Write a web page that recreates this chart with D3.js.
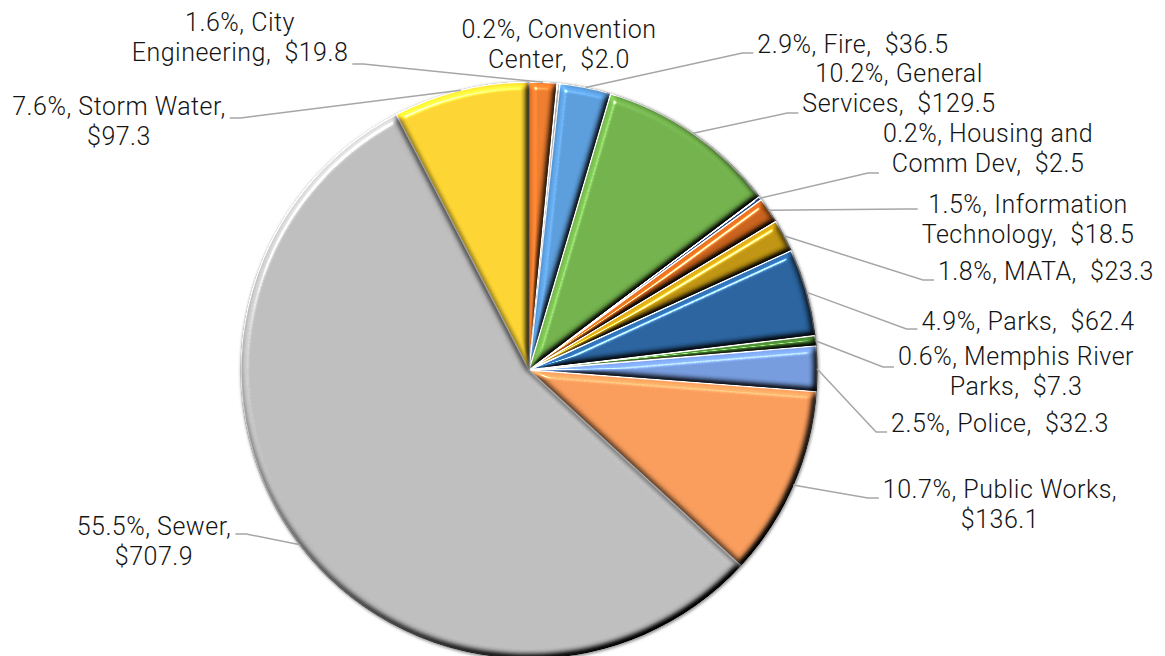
<!DOCTYPE html>
<html>
<head>
<meta charset="utf-8">
<script src="https://cdn.jsdelivr.net/npm/d3@7/dist/d3.min.js"></script>
<style>
  html, body { margin: 0; padding: 0; background: #ffffff; }
  svg { display: block; }
  .lbl { font-family: Roboto, "Noto Sans", sans-serif; font-size: 25px; font-weight: 300; letter-spacing: 0.5px; fill: #141414; white-space: pre; }
</style>
</head>
<body>
<svg id="chart" width="1165" height="656"></svg>
<script>
// Capital budget by division ($ millions)
const categories = [
  "City Engineering", "Convention Center", "Fire", "General Services",
  "Housing and Comm Dev", "Information Technology", "MATA", "Parks",
  "Memphis River Parks", "Police", "Public Works", "Sewer", "Storm Water"
];
const values = [19.8, 2.0, 36.5, 129.5, 2.5, 18.5, 23.3, 62.4, 7.3, 32.3, 136.1, 707.9, 97.3];
const colors = [
  "#ec7c2e", "#a5a5a5", "#5b9cda", "#72b14c",
  "#284780", "#c8621c", "#bf9412", "#2a639e",
  "#46802f", "#769bdd", "#f89c5c", "#bdbdbd", "#fbd433"
];
// number of words kept on the first line of each label (0 = single line)
const firstLineWords = [2, 2, 0, 2, 3, 2, 0, 0, 3, 0, 3, 2, 3];

// label placement: centre x, first baseline y, leader height (null = no leader)
const labelLayout = [
  { x: 240, y: 31, ly: 64, side: "left" },
  { x: 559, y: 38, ly: null, side: "right" },
  { x: 853, y: 53, ly: 53, side: "right" },
  { x: 899, y: 82, ly: 113, side: "right" },
  { x: 988, y: 142, ly: 173, side: "right" },
  { x: 1028, y: 213, ly: 209, side: "right" },
  { x: 1046, y: 280, ly: 280, side: "right" },
  { x: 1028, y: 330, ly: 329, side: "right" },
  { x: 1016, y: 365, ly: 367, side: "right" },
  { x: 1000, y: 432, ly: 432, side: "right" },
  { x: 1000, y: 498, ly: 498, side: "right" },
  { x: 154, y: 535, ly: 534, side: "left" },
  { x: 119, y: 115, ly: 118, side: "left" }
];

const cx = 529, cy = 370, R = 288, lineH = 30;

const svg = d3.select("#chart");
const defs = svg.append("defs");

// bevel: lit from the upper left, diffuse shading plus a narrow specular edge
const bevel = defs.append("filter").attr("id", "bevel")
  .attr("x", "-5%").attr("y", "-5%").attr("width", "110%").attr("height", "110%")
  .attr("color-interpolation-filters", "sRGB");
bevel.append("feGaussianBlur").attr("in", "SourceAlpha").attr("stdDeviation", 3.5).attr("result", "blur");
bevel.append("feDiffuseLighting").attr("in", "blur").attr("surfaceScale", 7)
  .attr("diffuseConstant", 1).attr("lighting-color", "#ffffff").attr("result", "diff")
  .append("feDistantLight").attr("azimuth", 235).attr("elevation", 55);
bevel.append("feComposite").attr("in", "SourceGraphic").attr("in2", "diff")
  .attr("operator", "arithmetic").attr("k1", 1.221).attr("k2", 0).attr("k3", 0).attr("k4", 0)
  .attr("result", "shaded");
bevel.append("feSpecularLighting").attr("in", "blur").attr("surfaceScale", 7)
  .attr("specularConstant", 0.8).attr("specularExponent", 100)
  .attr("lighting-color", "#ffffff").attr("result", "spec")
  .append("feDistantLight").attr("azimuth", 235).attr("elevation", 55);
bevel.append("feComposite").attr("in", "spec").attr("in2", "SourceAlpha")
  .attr("operator", "in").attr("result", "specIn");
bevel.append("feComposite").attr("in", "shaded").attr("in2", "SourceAlpha")
  .attr("operator", "in").attr("result", "shadedIn");
bevel.append("feComposite").attr("in", "specIn").attr("in2", "shadedIn")
  .attr("operator", "arithmetic").attr("k1", 0).attr("k2", 1).attr("k3", 1).attr("k4", 0);

const shadow = defs.append("filter").attr("id", "rim")
  .attr("x", "-10%").attr("y", "-10%").attr("width", "120%").attr("height", "120%");
shadow.append("feGaussianBlur").attr("stdDeviation", 1.6);

const data = categories.map((c, i) => ({ name: c, value: values[i], color: colors[i], i }));
const total = d3.sum(values);
const pie = d3.pie().value(d => d.value).sort(null).startAngle(0).endAngle(2 * Math.PI);
const arcs = pie(data);

const arc = d3.arc().innerRadius(0).outerRadius(R);
const rimArc = d3.arc().innerRadius(R).outerRadius(R);

const g = svg.append("g").attr("transform", `translate(${cx},${cy})`);

// soft grey rim behind the pie
g.append("circle").attr("r", R + 1).attr("cx", 0.8).attr("cy", 1.2)
  .attr("fill", "#8a8a8a").attr("filter", "url(#rim)");

g.selectAll("path.slice").data(arcs).join("path")
  .attr("class", "slice")
  .attr("d", arc)
  .attr("fill", d => d.data.color)
  .attr("stroke", "#ffffff")
  .attr("stroke-width", 1.4)
  .attr("stroke-linejoin", "round")
  .attr("filter", "url(#bevel)");

// labels
const pct = d3.format(".1%");
const labels = svg.append("g");
arcs.forEach((d, i) => {
  const L = labelLayout[i];
  const full = `${pct(d.data.value / total)}, ${d.data.name},  $${d.data.value.toFixed(1)}`;
  const tokens = full.match(/\S+\s*/g);
  const n = firstLineWords[i];
  const lines = n === 0 ? [full] : [tokens.slice(0, n).join("").trimEnd(), tokens.slice(n).join("").trimEnd()];
  const t = labels.append("text").attr("class", "lbl").attr("text-anchor", "middle");
  lines.forEach((ln, k) => {
    t.append("tspan").attr("x", L.x).attr("y", L.y + k * lineH).text(ln);
  });
  if (L.ly === null) return;
  let maxW = 0;
  t.selectAll("tspan").each(function () { maxW = Math.max(maxW, this.getComputedTextLength()); });
  const p = rimArc.centroid(d);
  const sx = cx + p[0], sy = cy + p[1];
  const endX = L.side === "right" ? L.x - maxW / 2 - 4 : L.x + maxW / 2 + 4;
  const elbowX = L.side === "right" ? endX - 11 : endX + 11;
  labels.insert("path", "text")
    .attr("d", d3.line()([[sx, sy], [elbowX, L.ly], [endX, L.ly]]))
    .attr("fill", "none")
    .attr("stroke", "#a6a6a6")
    .attr("stroke-width", 1.5);
});
</script>
</body>
</html>
